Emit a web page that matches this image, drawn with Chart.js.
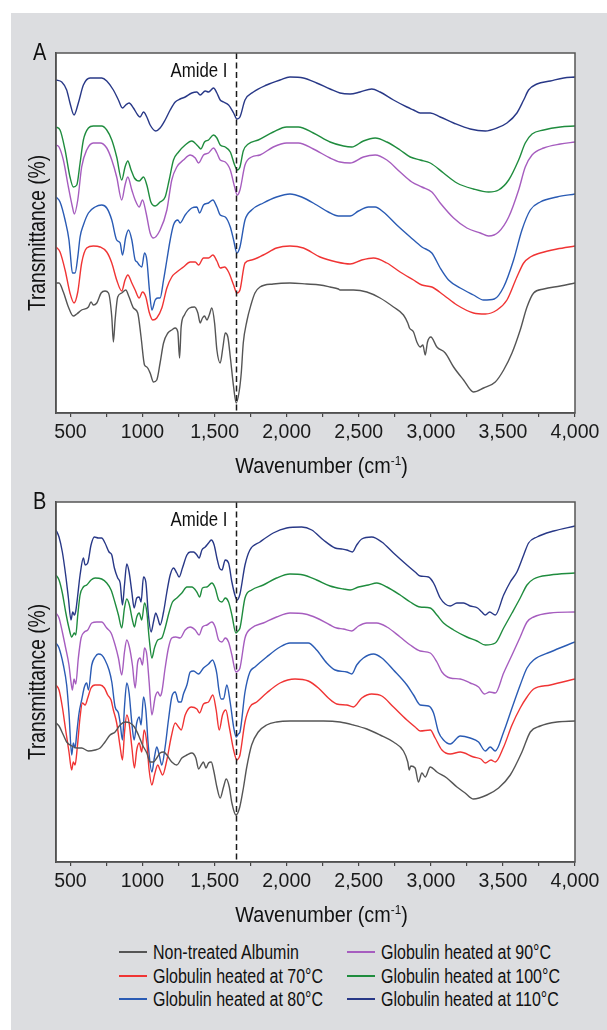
<!DOCTYPE html>
<html>
<head>
<meta charset="utf-8">
<script src="https://cdn.jsdelivr.net/npm/chart.js@4.4.1/dist/chart.umd.min.js"></script>
<style>
  html, body { margin: 0; padding: 0; background: #fff; }
  #page { position: relative; width: 607px; height: 1030px; overflow: hidden;
          font-family: 'Liberation Sans', Arial, sans-serif; }
  #bg { position: absolute; left: 11px; top: 13px; width: 596px; height: 1017px; background: #dcdde0; }
  canvas { position: absolute; left: 0; }
  #chartA { top: 0; }
  #chartB { top: 449px; }
  .lg-line { position: absolute; width: 28px; height: 2px; }
  .lg-text { position: absolute; font-size: 20px; line-height: 20px; color: #111;
             white-space: nowrap; transform: scaleX(0.8); transform-origin: 0 50%; }
</style>
</head>
<body>
<div id="page">
  <div id="bg"></div>
  <canvas id="chartA" width="607" height="480"></canvas>
  <canvas id="chartB" width="607" height="480"></canvas>
  <div id="legend"></div>
</div>
<script>
// ====== DATA (wavenumber cm-1, transmittance in arbitrary offset units) ======
const seriesNames  = ['Non-treated Albumin', 'Globulin heated at 70°C', 'Globulin heated at 80°C',
                      'Globulin heated at 90°C', 'Globulin heated at 100°C', 'Globulin heated at 110°C'];
const seriesColors = ['#555555', '#f03434', '#2a5bb4', '#a65dbf', '#1f8c3e', '#283887'];

const xTicks    = [500, 750, 1000, 1250, 1500, 1750, 2000, 2250, 2500, 2750, 3000, 3250, 3500, 3750, 4000];
const xTickText = ['500', '', '1000', '', '1,500', '', '2,000', '', '2,500', '', '3,000', '', '3,500', '', '4,000'];
const amideI = 1652;

// ---- Panel A ----
const albuminA = [[400,130],[421,130],[451,121],[486,106],[520,97],[544,99],[578,103],[625,106],[643,111],[659,108],[683,110],[713,120],[740,122],[764,120],[787,96],[798,71],[810,93],[828,116],[856,120],[884,123],[907,116],[937,105],[967,100],[990,76],[1014,48],[1030,46],[1053,40],[1076,31],[1099,33],[1122,50],[1146,70],[1176,80],[1203,83],[1227,85],[1245,81],[1257,55],[1268,86],[1291,98],[1326,105],[1361,106],[1384,100],[1400,90],[1416,95],[1430,97],[1447,93],[1463,98],[1481,105],[1500,90],[1516,63],[1539,50],[1558,66],[1574,80],[1592,76],[1609,56],[1632,26],[1650,10],[1671,22],[1685,40],[1699,70],[1724,92],[1752,108],[1780,120],[1815,126],[1907,129],[2023,130],[2139,129],[2231,128],[2301,126],[2359,124],[2370,123],[2463,123],[2556,121],[2648,115],[2741,106],[2810,98],[2840,90],[2852,85],[2880,81],[2903,71],[2926,66],[2945,68],[2961,58],[2977,71],[3000,76],[3042,66],[3100,60],[3158,46],[3227,33],[3296,21],[3366,25],[3447,31],[3505,43],[3563,60],[3620,83],[3667,106],[3713,120],[3783,124],[3898,127],[4000,130]];
const g70A = [[400,166],[428,161],[463,143],[497,120],[525,110],[551,121],[578,150],[613,165],[659,167],[706,166],[752,161],[787,150],[821,133],[856,122],[879,133],[898,138],[926,130],[949,123],[977,115],[1000,121],[1023,116],[1046,101],[1071,93],[1099,95],[1134,105],[1169,125],[1203,136],[1238,141],[1284,146],[1331,151],[1366,151],[1389,148],[1423,155],[1458,155],[1488,158],[1516,152],[1539,145],[1569,146],[1597,141],[1632,128],[1655,120],[1676,123],[1711,150],[1757,153],[1838,158],[1930,165],[2023,167],[2116,165],[2231,156],[2347,151],[2440,149],[2521,153],[2602,155],[2695,150],[2787,141],[2880,133],[2938,128],[3007,126],[3088,118],[3181,108],[3296,100],[3378,99],[3459,103],[3528,113],[3597,136],[3644,150],[3690,156],[3759,160],[3875,164],[4000,167]];
const g80A = [[400,216],[428,211],[463,193],[490,173],[497,163],[514,140],[532,140],[551,156],[567,176],[590,188],[625,200],[671,206],[717,208],[752,205],[787,193],[821,173],[845,170],[861,158],[884,176],[903,183],[926,173],[949,153],[963,151],[977,148],[995,146],[1014,160],[1030,153],[1048,123],[1065,103],[1088,113],[1106,115],[1122,115],[1146,133],[1169,153],[1192,173],[1215,188],[1245,193],[1261,190],[1296,198],[1342,205],[1377,206],[1396,200],[1423,208],[1458,210],[1488,213],[1516,206],[1539,198],[1574,196],[1609,186],[1632,173],[1655,160],[1676,166],[1711,193],[1757,203],[1838,210],[1930,216],[2023,219],[2104,216],[2208,208],[2289,201],[2359,197],[2440,197],[2498,202],[2567,206],[2614,206],[2671,201],[2764,188],[2857,176],[2938,166],[3007,160],[3065,145],[3123,133],[3204,125],[3296,118],[3366,113],[3440,114],[3505,126],[3574,153],[3632,183],[3690,203],[3759,211],[3875,216],[4000,219]];
const g90A = [[400,268],[421,266],[451,253],[486,226],[514,206],[527,199],[551,213],[578,246],[613,263],[659,270],[706,270],[752,265],[787,253],[821,236],[856,213],[879,228],[898,236],[926,223],[949,213],[977,206],[1000,213],[1025,200],[1053,180],[1076,175],[1122,183],[1169,203],[1203,233],[1238,246],[1284,253],[1331,258],[1366,255],[1389,250],[1423,258],[1458,260],[1493,265],[1516,260],[1539,253],[1574,251],[1609,243],[1639,226],[1657,218],[1676,223],[1711,248],[1757,256],[1815,258],[1907,266],[2000,270],[2081,270],[2185,264],[2301,255],[2370,251],[2440,250],[2532,256],[2614,258],[2695,253],[2787,241],[2868,231],[2938,226],[3007,221],[3065,210],[3158,195],[3250,185],[3343,180],[3401,177],[3470,181],[3540,196],[3609,223],[3655,246],[3702,258],[3783,265],[3898,269],[4000,271]];
const g100A = [[400,286],[428,283],[463,263],[497,236],[520,226],[544,228],[567,250],[590,273],[625,285],[659,287],[717,287],[752,283],[787,273],[821,256],[856,233],[879,246],[898,252],[921,243],[944,235],[977,232],[1007,236],[1030,228],[1058,211],[1088,207],[1122,211],[1157,216],[1185,233],[1215,253],[1250,261],[1296,268],[1342,272],[1384,267],[1405,264],[1430,271],[1458,273],[1493,278],[1516,275],[1539,268],[1574,266],[1609,261],[1639,248],[1657,243],[1676,246],[1699,262],[1734,269],[1803,273],[1907,281],[2000,286],[2081,286],[2185,280],[2301,271],[2394,267],[2452,266],[2532,272],[2614,275],[2695,271],[2787,263],[2857,256],[2926,253],[2996,250],[3088,240],[3181,230],[3296,224],[3401,221],[3470,223],[3540,233],[3609,253],[3655,270],[3702,279],[3783,283],[3898,286],[4000,287]];
const g110A = [[400,333],[440,331],[474,323],[497,310],[525,298],[555,310],[590,328],[636,335],[717,335],[752,332],[798,323],[833,313],[861,305],[884,308],[907,310],[937,305],[967,298],[983,296],[1007,301],[1030,296],[1053,288],[1092,282],[1122,285],[1157,293],[1192,303],[1227,311],[1261,314],[1296,316],[1342,320],[1377,321],[1400,318],[1435,322],[1458,321],[1493,325],[1516,320],[1539,313],[1562,311],[1597,308],[1632,300],[1655,294],[1676,296],[1711,313],[1769,321],[1861,328],[1954,333],[2023,336],[2116,335],[2208,330],[2301,324],[2370,320],[2440,319],[2509,321],[2590,324],[2648,321],[2741,313],[2834,306],[2880,303],[2926,300],[2996,300],[3065,296],[3158,290],[3273,284],[3378,282],[3459,285],[3528,290],[3597,300],[3644,313],[3678,323],[3736,329],[3829,332],[3922,335],[4000,336]];

// ---- Panel B ----
const albuminB = [[400,139],[421,136],[451,127],[474,120],[509,116],[544,114],[578,114],[625,111],[671,112],[706,114],[740,120],[775,127],[810,130],[845,137],[879,140],[914,139],[944,135],[972,127],[1000,117],[1030,109],[1053,100],[1076,100],[1099,104],[1122,109],[1146,110],[1169,107],[1203,100],[1238,97],[1273,104],[1308,107],[1342,109],[1370,104],[1389,93],[1407,97],[1423,100],[1440,94],[1458,99],[1477,100],[1493,92],[1516,75],[1539,64],[1562,75],[1581,83],[1602,75],[1620,59],[1648,47],[1673,54],[1701,75],[1722,94],[1757,117],[1803,130],[1861,137],[1930,140],[2023,141],[2255,141],[2370,140],[2463,137],[2556,133],[2648,127],[2741,120],[2810,111],[2840,100],[2850,92],[2861,96],[2891,94],[2914,80],[2938,89],[2961,85],[2996,95],[3042,90],[3111,84],[3181,75],[3238,69],[3296,63],[3389,67],[3470,74],[3551,87],[3632,110],[3690,130],[3759,136],[3875,140],[4000,141]];
const g70B = [[400,177],[421,172],[444,155],[467,132],[490,110],[509,92],[520,100],[532,97],[548,115],[567,145],[583,159],[602,157],[620,164],[643,174],[671,177],[706,177],[736,174],[759,167],[782,162],[798,152],[821,139],[845,115],[861,102],[875,129],[891,147],[907,139],[926,115],[944,94],[960,112],[977,119],[995,110],[1011,132],[1030,119],[1046,92],[1065,77],[1083,87],[1106,97],[1122,92],[1139,87],[1169,102],[1199,125],[1227,139],[1250,135],[1268,132],[1296,147],[1338,155],[1377,153],[1396,149],[1423,158],[1458,160],[1488,167],[1511,152],[1532,132],[1555,147],[1578,152],[1602,135],[1632,112],[1655,102],[1668,104],[1676,107],[1711,140],[1745,155],[1792,160],[1861,169],[1954,179],[2058,183],[2150,181],[2220,174],[2289,164],[2347,158],[2417,157],[2463,155],[2521,164],[2590,168],[2660,166],[2741,155],[2834,142],[2891,135],[2926,131],[2996,132],[3030,124],[3077,112],[3134,108],[3204,110],[3296,105],[3347,103],[3378,99],[3417,102],[3447,100],[3505,115],[3563,137],[3620,154],[3667,165],[3713,173],[3829,177],[4000,183]];
const g80B = [[400,219],[421,214],[451,197],[474,177],[490,149],[509,107],[520,119],[532,114],[544,129],[560,149],[578,162],[597,175],[613,179],[625,172],[648,197],[671,205],[694,208],[717,207],[740,202],[768,192],[787,180],[810,155],[833,149],[845,139],[861,122],[875,155],[891,179],[907,169],[926,139],[942,122],[960,139],[977,145],[990,137],[1007,165],[1023,152],[1041,115],[1065,90],[1083,105],[1099,115],[1116,107],[1134,97],[1157,115],[1180,142],[1203,165],[1227,170],[1250,160],[1268,160],[1284,168],[1308,177],[1331,190],[1354,191],[1389,188],[1423,194],[1458,198],[1486,202],[1504,196],[1516,188],[1530,172],[1545,163],[1562,163],[1585,177],[1609,159],[1632,135],[1650,125],[1665,128],[1676,130],[1711,170],[1745,190],[1780,195],[1861,205],[1954,215],[2023,219],[2150,219],[2208,212],[2278,199],[2336,192],[2417,190],[2452,188],[2486,197],[2532,204],[2602,208],[2660,204],[2741,192],[2834,177],[2880,167],[2926,157],[2984,156],[3019,149],[3053,130],[3088,122],[3134,118],[3204,126],[3273,124],[3331,120],[3378,111],[3412,115],[3447,111],[3505,130],[3563,154],[3620,177],[3667,194],[3713,202],[3829,210],[4000,220]];
const g90B = [[400,249],[421,244],[444,230],[467,214],[490,197],[504,180],[514,172],[525,183],[537,178],[555,204],[574,224],[597,230],[620,232],[648,239],[683,240],[717,240],[752,234],[782,229],[810,217],[833,204],[856,187],[875,210],[891,222],[909,215],[930,197],[949,174],[967,200],[983,204],[1000,197],[1014,214],[1030,207],[1046,180],[1065,147],[1088,165],[1106,170],[1122,166],[1134,170],[1157,194],[1180,214],[1203,224],[1231,225],[1261,224],[1296,232],[1331,235],[1366,232],[1393,227],[1416,235],[1447,237],[1481,240],[1504,235],[1528,222],[1551,220],[1574,224],[1597,220],[1620,207],[1648,190],[1662,191],[1676,194],[1711,224],[1757,234],[1838,239],[1930,245],[2023,249],[2127,248],[2208,244],[2301,237],[2347,234],[2394,233],[2452,231],[2498,236],[2556,239],[2625,239],[2695,235],[2787,225],[2857,217],[2926,211],[2996,209],[3042,200],[3077,190],[3134,184],[3204,183],[3273,179],[3331,175],[3373,168],[3408,170],[3447,169],[3505,189],[3563,207],[3620,225],[3667,240],[3713,245],[3829,249],[4000,250]];
const g100B = [[400,287],[421,282],[444,269],[467,250],[490,234],[509,225],[527,229],[537,227],[551,247],[567,267],[590,275],[613,277],[643,282],[671,284],[717,283],[752,279],[782,272],[810,259],[833,247],[856,234],[875,254],[891,263],[909,257],[930,242],[944,235],[960,245],[977,249],[995,242],[1014,259],[1030,250],[1046,224],[1065,204],[1083,214],[1106,222],[1134,224],[1157,234],[1185,250],[1208,260],[1238,264],[1273,269],[1308,275],[1342,275],[1377,270],[1396,265],[1416,274],[1447,275],[1481,279],[1504,274],[1528,262],[1551,260],[1574,264],[1597,260],[1620,247],[1648,229],[1662,231],[1676,234],[1711,264],[1757,272],[1838,277],[1930,284],[2023,288],[2116,287],[2208,282],[2301,276],[2394,273],[2440,272],[2498,275],[2567,277],[2625,279],[2695,275],[2787,267],[2857,260],[2926,255],[2996,254],[3042,247],[3088,239],[3158,232],[3250,225],[3320,221],[3378,217],[3447,219],[3505,234],[3563,249],[3620,264],[3667,277],[3713,283],[3829,287],[4000,289]];
const g110B = [[400,332],[421,325],[444,310],[467,287],[486,264],[504,242],[516,250],[527,247],[537,251],[551,267],[567,287],[590,304],[602,297],[620,299],[643,317],[666,325],[694,324],[717,324],[740,319],[768,310],[787,307],[805,294],[828,284],[845,279],[861,257],[875,277],[891,298],[907,290],[926,270],[942,254],[960,264],[977,265],[990,260],[1007,285],[1023,280],[1041,247],[1060,230],[1076,240],[1092,249],[1106,244],[1122,237],[1146,250],[1169,270],[1192,287],[1215,294],[1238,289],[1254,285],[1277,294],[1308,307],[1331,310],[1354,310],[1377,307],[1393,304],[1412,312],[1435,315],[1458,319],[1477,322],[1497,317],[1516,304],[1534,294],[1551,292],[1574,302],[1597,299],[1620,280],[1643,266],[1657,262],[1676,268],[1711,297],[1745,312],[1815,320],[1907,329],[2000,334],[2104,335],[2174,332],[2255,322],[2336,314],[2382,313],[2417,312],[2456,310],[2486,317],[2521,323],[2590,325],[2660,320],[2741,309],[2834,297],[2891,290],[2926,286],[2984,285],[3019,279],[3065,264],[3100,258],[3134,256],[3181,259],[3227,259],[3273,256],[3324,254],[3354,250],[3378,247],[3408,250],[3447,247],[3505,267],[3551,280],[3597,290],[3644,307],[3678,319],[3736,325],[3852,331],[4000,336]];

const panelA = [albuminA, g70A, g80A, g90A, g100A, g110A];
const panelB = [albuminB, g70B, g80B, g90B, g100B, g110B];

// ====== TEXT HELPERS ======
const FONT = "'Liberation Sans', Arial, sans-serif";
function squeezed(ctx, text, x, y, sx, size, align) {
  ctx.save();
  ctx.translate(x, y);
  ctx.scale(sx, 1);
  ctx.font = size + 'px ' + FONT;
  ctx.textAlign = align;
  ctx.textBaseline = 'alphabetic';
  ctx.fillText(text, 0, 0);
  ctx.restore();
}

// white plot area, frame, Amide I marker, panel letter and axis titles
const decor = {
  id: 'decor',
  beforeDraw(chart) {
    const { ctx, chartArea: a } = chart;
    ctx.save();
    ctx.fillStyle = '#fff';
    ctx.fillRect(a.left, a.top, a.right - a.left, a.bottom - a.top);
    ctx.restore();
  },
  afterDatasetsDraw(chart, args, opts) {
    const { ctx, chartArea: a, scales: { x } } = chart;
    const px = Math.round(x.getPixelForValue(amideI)) + 0.5;
    ctx.save();
    ctx.strokeStyle = '#1a1a1a';
    ctx.lineWidth = 1.5;
    ctx.setLineDash([6, 3.5]);
    ctx.beginPath();
    ctx.moveTo(px, a.top);
    ctx.lineTo(px, a.bottom);
    ctx.stroke();
    ctx.setLineDash([]);
    ctx.strokeStyle = '#555';
    ctx.lineWidth = 1.5;
    ctx.strokeRect(a.left, a.top, a.right - a.left, a.bottom - a.top);

    ctx.fillStyle = '#111';
    squeezed(ctx, 'Amide I', px - 9, a.top + 23.5, 0.8, 21, 'right');
    squeezed(ctx, opts.letter, 33, a.top + 6.5, 0.87, 23, 'left');

    // x title with superscript
    const cx = (a.left + a.right) / 2 + 6, by = a.bottom + 59.5, sx = 0.9;
    ctx.font = '22px ' + FONT;
    const w1 = ctx.measureText('Wavenumber (cm').width;
    const w3 = ctx.measureText(')').width;
    ctx.font = '13px ' + FONT;
    const w2 = ctx.measureText('-1').width;
    const left = cx - (w1 + w2 + w3) * sx / 2;
    squeezed(ctx, 'Wavenumber (cm', left, by, sx, 22, 'left');
    squeezed(ctx, '-1', left + w1 * sx, by - 8, sx, 13, 'left');
    squeezed(ctx, ')', left + (w1 + w2) * sx, by, sx, 22, 'left');

    // y title
    ctx.save();
    ctx.translate(44.5, (a.top + a.bottom) / 2);
    ctx.rotate(-Math.PI / 2);
    squeezed(ctx, 'Transmittance (%)', 0, 0, 0.8, 24, 'center');
    ctx.restore();
    ctx.restore();
  }
};

function makeChart(id, letter, series) {
  return new Chart(document.getElementById(id), {
    type: 'line',
    data: {
      datasets: series.map((pts, i) => ({
        label: seriesNames[i],
        data: pts.map(p => ({ x: p[0], y: p[1] })),
        borderColor: seriesColors[i],
        borderWidth: 1.4,
        pointRadius: 0,
        cubicInterpolationMode: 'monotone',
        fill: false
      }))
    },
    options: {
      responsive: false,
      animation: false,
      devicePixelRatio: 1,
      layout: { padding: { left: 0, right: 32, top: 53, bottom: 0 } },
      plugins: { legend: { display: false }, tooltip: { enabled: false }, decor: { letter } },
      scales: {
        x: {
          type: 'linear', min: 400, max: 4000,
          afterBuildTicks: ax => { ax.ticks = xTicks.map(v => ({ value: v })); },
          afterFit: s => { s.height = 67; },
          ticks: {
            autoSkip: false, maxRotation: 0, padding: 4, color: '#1a1a1a',
            font: { family: FONT, size: 19.5 },
            callback: (v, i) => xTickText[i]
          },
          grid: { drawOnChartArea: false, drawTicks: true, tickLength: 4, color: '#444', lineWidth: 1.2 },
          border: { color: '#444', width: 1.5 }
        },
        y: {
          min: 0, max: 360,
          afterFit: s => { s.width = 56; },
          ticks: { display: false },
          grid: { display: false, drawTicks: false },
          border: { color: '#444', width: 1.5 }
        }
      }
    },
    plugins: [decor]
  });
}

makeChart('chartA', 'A', panelA);
makeChart('chartB', 'B', panelB);

// ====== LEGEND (two columns, three rows) ======
const legend = document.getElementById('legend');
const colX = [119, 347];
const rowY = [952, 975.5, 998.8];
seriesNames.forEach((name, i) => {
  const col = Math.floor(i / 3), row = i % 3;
  const line = document.createElement('div');
  line.className = 'lg-line';
  line.style.left = colX[col] + 'px';
  line.style.top = (rowY[row] - 1) + 'px';
  line.style.background = seriesColors[i];
  legend.appendChild(line);
  const txt = document.createElement('div');
  txt.className = 'lg-text';
  txt.style.left = (colX[col] + 34) + 'px';
  txt.style.top = (rowY[row] - 9.8) + 'px';
  txt.textContent = name;
  legend.appendChild(txt);
});
</script>
</body>
</html>
